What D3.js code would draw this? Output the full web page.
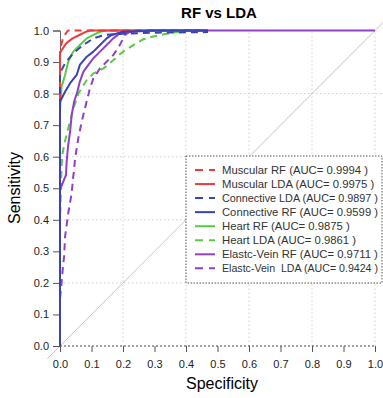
<!DOCTYPE html>
<html>
<head>
<meta charset="utf-8">
<script src="https://cdn.jsdelivr.net/npm/d3@7"></script>
<style>
  body { margin: 0; background: #fff; }
  svg { font-family: Arial, "Liberation Sans", sans-serif; }
</style>
</head>
<body>
<div id="chart"></div>
<script>
// ROC points as [1 - specificity, sensitivity]
const musRF = [[0,0],[0,0.94],[0.004,0.955],[0.008,0.97],[0.015,0.985],[0.025,1],[0.47,1]];
const musLDA = [[0,0],[0,0.93],[0.01,0.945],[0.02,0.96],[0.04,0.975],[0.06,0.985],[0.08,0.995],[0.095,1],[0.47,1]];
const conLDA = [[0,0],[0,0.865],[0.016,0.896],[0.042,0.928],[0.074,0.954],[0.106,0.975],[0.143,0.986],[0.2,0.99],[0.3,0.993],[0.47,0.995]];
const conRF = [[0,0],[0,0.774],[0.016,0.806],[0.032,0.833],[0.053,0.859],[0.063,0.891],[0.085,0.917],[0.106,0.933],[0.127,0.954],[0.148,0.975],[0.164,0.986],[0.2,0.996],[0.3,1],[0.47,1]];
const heartRF = [[0,0],[0,0.75],[0.005,0.822],[0.016,0.859],[0.026,0.901],[0.042,0.933],[0.063,0.954],[0.085,0.975],[0.106,0.986],[0.127,0.996],[0.15,1],[0.47,1]];
const heartLDA = [[0,0],[0,0.4],[0.003,0.5],[0.005,0.57],[0.008,0.61],[0.016,0.65],[0.026,0.69],[0.042,0.75],[0.058,0.8],[0.085,0.843],[0.106,0.864],[0.138,0.88],[0.169,0.906],[0.2,0.933],[0.235,0.955],[0.264,0.972],[0.3,0.982],[0.33,0.988],[0.36,0.993],[0.4,1],[0.47,1]];
const veinRF = [[0,0],[0,0.494],[0.01,0.52],[0.019,0.542],[0.021,0.584],[0.026,0.637],[0.032,0.679],[0.037,0.732],[0.045,0.775],[0.055,0.806],[0.063,0.838],[0.074,0.869],[0.09,0.891],[0.106,0.912],[0.127,0.933],[0.148,0.954],[0.169,0.975],[0.19,0.991],[0.25,0.998],[0.3,1],[1,1]];
const veinLDA = [[0,0],[0,0.15],[0.005,0.2],[0.01,0.257],[0.013,0.283],[0.016,0.346],[0.026,0.42],[0.037,0.484],[0.042,0.537],[0.044,0.552],[0.048,0.595],[0.058,0.658],[0.069,0.711],[0.079,0.753],[0.09,0.796],[0.095,0.817],[0.106,0.848],[0.127,0.88],[0.148,0.901],[0.169,0.922],[0.19,0.954],[0.206,0.986],[0.222,0.996],[0.25,1],[0.47,1]];

const legendLabels = ['Muscular RF (AUC= 0.9994 )', 'Muscular LDA (AUC= 0.9975 )', 'Connective LDA (AUC= 0.9897 )', 'Connective RF (AUC= 0.9599 )',
  'Heart RF (AUC= 0.9875 )', 'Heart LDA (AUC= 0.9861 )', 'Elastc-Vein RF (AUC= 0.9711 )', 'Elastc-Vein  LDA (AUC= 0.9424 )'];
const xTicks = [0, 0.1, 0.2, 0.3, 0.4, 0.5, 0.6, 0.7, 0.8, 0.9, 1.0];
const yTicks = [0, 0.1, 0.2, 0.3, 0.4, 0.5, 0.6, 0.7, 0.8, 0.9, 1.0];
const gridVals = [0.2, 0.4, 0.6, 0.8, 1.0];

const red = '#ee3b3b', blue = '#3a44b0', green = '#58cc40', purple = '#9040c8';
const series = [
  { data: musRF, color: red, dash: true },
  { data: musLDA, color: red, dash: false },
  { data: conLDA, color: blue, dash: true },
  { data: conRF, color: blue, dash: false },
  { data: heartRF, color: green, dash: false },
  { data: heartLDA, color: green, dash: true },
  { data: veinRF, color: purple, dash: false },
  { data: veinLDA, color: purple, dash: true }
];
// draw order (later on top)
const drawOrder = [5, 4, 7, 6, 1, 0, 2, 3];

const width = 383, height = 398;
const svg = d3.select('#chart').append('svg')
  .attr('width', width)
  .attr('height', height);

const x = d3.scaleLinear().domain([0, 1]).range([60, 375]);
const y = d3.scaleLinear().domain([0, 1]).range([346, 30.5]);

// grid
svg.append('g').selectAll('line.v')
  .data(gridVals)
  .enter().append('line')
  .attr('x1', d => x(d)).attr('x2', d => x(d))
  .attr('y1', y(0)).attr('y2', y(1))
  .attr('stroke', '#cfcfcf').attr('stroke-dasharray', '1.5,2.5');
svg.append('g').selectAll('line.h')
  .data(gridVals.slice(0, 4))
  .enter().append('line')
  .attr('x1', x(0)).attr('x2', width)
  .attr('y1', d => y(d)).attr('y2', d => y(d))
  .attr('stroke', '#cfcfcf').attr('stroke-dasharray', '1.5,2.5');

// diagonal reference
svg.append('line')
  .attr('x1', x(-0.04)).attr('y1', y(-0.04))
  .attr('x2', x(1.03)).attr('y2', y(1.03))
  .attr('stroke', '#c4c4c4').attr('stroke-width', 1);

// bottom dotted line
svg.append('line')
  .attr('x1', x(0)).attr('x2', x(1))
  .attr('y1', y(0)).attr('y2', y(0))
  .attr('stroke', '#444').attr('stroke-dasharray', '2,2');

// axes
const xAxis = svg.append('g')
  .attr('transform', `translate(0,${y(0)})`)
  .call(d3.axisBottom(x).tickValues(xTicks).tickFormat(d3.format('.1f')).tickSize(6).tickPadding(8));
xAxis.select('.domain').remove();
const yAxis = svg.append('g')
  .attr('transform', `translate(${x(0)},0)`)
  .call(d3.axisLeft(y).tickValues(yTicks).tickFormat(d3.format('.1f')).tickSize(7).tickPadding(4));
yAxis.select('.domain').attr('stroke', '#666');
[xAxis, yAxis].forEach(g => {
  g.selectAll('.tick line').attr('stroke', '#555');
  g.selectAll('.tick text').attr('fill', '#222').style('font-size', '11px');
});

// legend box
const lg = svg.append('g');
lg.append('rect')
  .attr('x', 186).attr('y', 156)
  .attr('width', 196).attr('height', 127)
  .attr('fill', '#fff')
  .attr('stroke', '#555').attr('stroke-dasharray', '1.5,1.5');

// curves
const line = d3.line().x(d => x(d[0])).y(d => y(d[1]));
drawOrder.forEach(i => {
  const s = series[i];
  svg.append('path')
    .datum(s.data)
    .attr('d', line)
    .attr('fill', 'none')
    .attr('stroke', s.color)
    .attr('stroke-width', 2)
    .attr('stroke-linejoin', 'round')
    .attr('stroke-dasharray', s.dash ? '7,5' : null);
});

// legend entries
const rows = lg.selectAll('g.row')
  .data(series)
  .enter().append('g')
  .attr('transform', (d, i) => `translate(0,${170 + i * 14.05})`);
rows.append('line')
  .attr('x1', 195).attr('x2', 215)
  .attr('stroke', d => d.color).attr('stroke-width', 2)
  .attr('stroke-dasharray', d => d.dash ? '8,6' : null);
const maxW = 378 - 222;
rows.append('text')
  .attr('x', 222).attr('y', 4)
  .style('font-size', '11.3px')
  .style('white-space', 'pre')
  .attr('fill', '#333')
  .text((d, i) => legendLabels[i])
  .each(function () {
    // shrink the font a bit if the label would run off the page
    const w = this.getComputedTextLength();
    if (w > maxW) d3.select(this).style('font-size', (11.3 * maxW / w).toFixed(2) + 'px');
  });

// title and labels
svg.append('text')
  .attr('x', 219).attr('y', 18)
  .attr('text-anchor', 'middle')
  .style('font-size', '15px').style('font-weight', 'bold')
  .text('RF vs LDA');
svg.append('text')
  .attr('x', 222).attr('y', 389)
  .attr('text-anchor', 'middle')
  .style('font-size', '16px')
  .text('Specificity');
svg.append('text')
  .attr('transform', 'translate(20,188) rotate(-90)')
  .attr('text-anchor', 'middle')
  .style('font-size', '16px')
  .text('Sensitivity');
</script>
</body>
</html>
